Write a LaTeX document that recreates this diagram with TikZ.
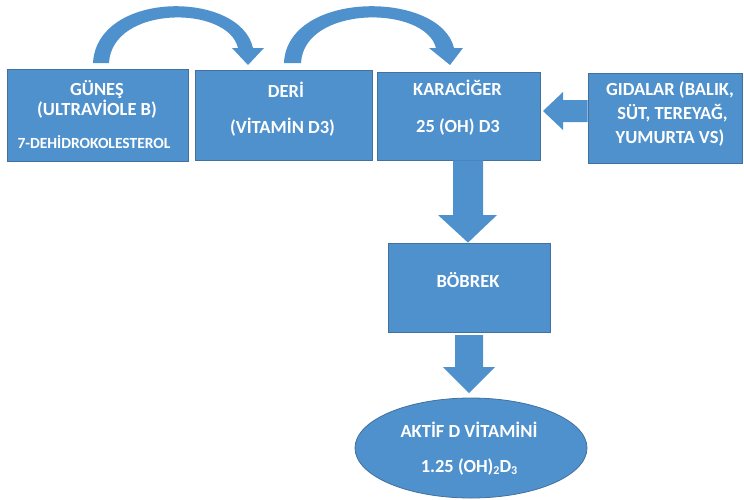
\documentclass[tikz,border=0pt]{standalone}
\usepackage{fontspec}
\setmainfont{Carlito}
\usetikzlibrary{shapes.geometric,calc}
\definecolor{bfill}{HTML}{4F91CD}
\definecolor{bdraw}{HTML}{41719C}
\begin{document}
\begin{tikzpicture}[x=1pt,y=-1pt,
  box/.style={draw=bdraw, line width=0.8pt, fill=bfill, rectangle, inner sep=0pt},
  oval/.style={draw=bdraw, line width=0.8pt, fill=bfill, ellipse, inner sep=0pt},
  txt/.style={text=white, font=\bfseries\fontsize{18.5}{18.5}\selectfont, anchor=base, inner sep=0pt},
  small/.style={txt, font=\bfseries\fontsize{15.5}{15.5}\selectfont},
  barrow/.style={fill=bfill}]
\useasboundingbox (0,0) rectangle (744,499);
% boxes
\node[box, minimum width=181pt, minimum height=92pt] (gunes) at (97.5,115) {};
\node[box, minimum width=177pt, minimum height=90pt] (deri) at (283.5,115) {};
\node[box, minimum width=163pt, minimum height=88pt] (kar) at (458.5,116) {};
\node[box, minimum width=154pt, minimum height=90pt] (gida) at (665,118) {};
\node[box, minimum width=162pt, minimum height=89pt] (bob) at (469,287.5) {};
\node[oval, minimum width=232pt, minimum height=100pt] (aktif) at (471,448) {};
% texts
\node[txt] (g1) at (97,95) {GÜNEŞ};
\node[txt] (g2) at (97,115) {(ULTRAVİOLE B)};
\node[small] (g3) at (94,148) {7-DEHİDROKOLESTEROL};
\node[txt] (d1) at (286,97) {DERİ};
\node[txt] (d2) at (282.5,133) {(VİTAMİN D3)};
\node[txt] (k1) at (457.5,95) {KARACİĞER};
\node[txt] (k2) at (458,132) {25 (OH) D3};
\node[txt] (f1) at (670,95) {GIDALAR (BALIK,};
\node[txt] (f2) at (672.5,119) {SÜT, TEREYAĞ,};
\node[txt] (f3) at (670,143) {YUMURTA VS)};
\node[txt] (b1) at (468,287) {BÖBREK};
\node[txt] (a1) at (469,437) {AKTİF D VİTAMİNİ};
\node[txt] (a2) at (469,472) {1.25 (OH)\raisebox{-0.25ex}{\fontsize{12}{12}\selectfont 2}D\raisebox{-0.25ex}{\fontsize{12}{12}\selectfont 3}};
% curved arrows
\fill[barrow] (93,63) .. controls (97,-10) and (240,-10) .. (253,48) -- (264,48) -- (248,65) -- (232,48) -- (238,48) .. controls (228,5) and (112,5) .. (109,63) -- cycle;
\fill[barrow] (284,63) .. controls (287,-10) and (440,-10) .. (454,48) -- (463,48) -- (450,65) -- (429,48) -- (436,48) .. controls (425,5) and (304,5) .. (301,63) -- cycle;
% left arrow food -> liver
\fill[barrow] (gida.west |- 0,100) -- (563,100) -- (563,92) -- (543,111) -- (563,130) -- (563,122) -- (gida.west |- 0,122) -- cycle;
% down arrow liver -> kidney
\fill[barrow] (453,0 |- kar.south) -- (453,215) -- (438,215) -- (468,0 |- bob.north) -- (497,215) -- (483,215) -- (483,0 |- kar.south) -- cycle;
% down arrow kidney -> active
\fill[barrow] (455,335) -- (455,367) -- (443,367) -- (469,393) -- (495,367) -- (483,367) -- (483,335) -- cycle;
\end{tikzpicture}
\end{document}
